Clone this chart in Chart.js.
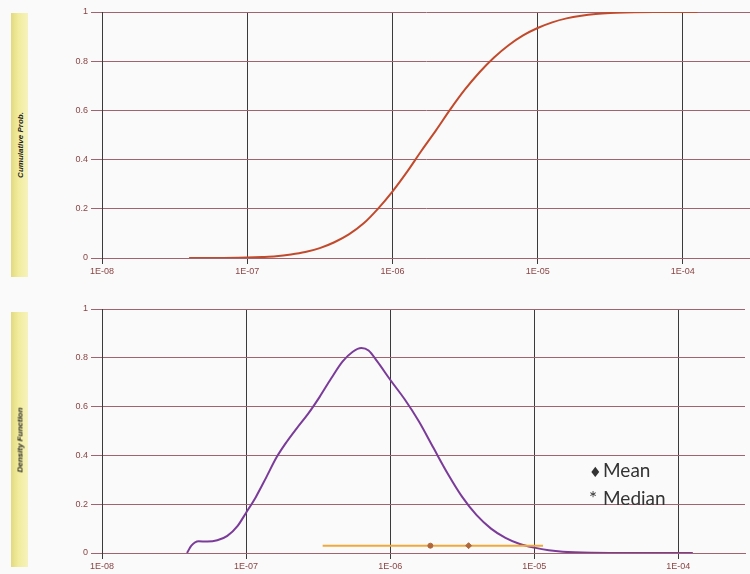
<!DOCTYPE html>
<html>
<head>
<meta charset="utf-8">
<script src="https://cdn.jsdelivr.net/npm/chart.js@4/dist/chart.umd.min.js"></script>
<style>
  html, body { margin: 0; padding: 0; background: #fafafa; }
  #wrap { position: relative; width: 750px; height: 574px; overflow: hidden; }
  .box { position: absolute; left: 0; width: 750px; height: 287px; }
  .tag {
    position: absolute; left: 11px; width: 17px;
    background: linear-gradient(to right, #e2da80 0%, #f2ec9e 45%, #f6f2bd 100%);
  }
  .tag span {
    position: absolute; left: 50%; top: 50%;
    transform: translate(-50%, -50%) rotate(-90deg);
    white-space: nowrap;
    font: italic bold 8px "Liberation Sans", Arial, sans-serif;
    color: #222;
  }
  #legend {
    position: absolute; left: 589px; top: 457px;
    font: 19px Lato, "Open Sans", sans-serif; color: #333; line-height: 25px;
  }
  #legend .sym { display: inline-block; width: 14px; }
</style>
</head>
<body>
<div id="wrap">
  <div class="box" style="top:0"><canvas id="cdfChart"></canvas></div>
  <div class="box" style="top:287px"><canvas id="pdfChart"></canvas></div>
  <div class="tag" style="top:13px;height:264px"><span>Cumulative Prob.</span></div>
  <div class="tag" style="top:312px;height:255px"><span>Density Function</span></div>
  <div id="legend">
    <div><span class="sym" style="font-family:'DejaVu Sans';font-size:14px">&#9830;</span>Mean</div>
    <div><span class="sym">*</span>Median</div>
  </div>
</div>

<script>
// ---- data ----
const xDecades    = [1e-8, 1e-7, 1e-6, 1e-5, 1e-4];
const xTickLabels = ["1E-08", "1E-07", "1E-06", "1E-05", "1E-04"];
const yTickLabels = ["0", "0.2", "0.4", "0.6", "0.8", "1"];

// cumulative probability
const cdfX = [3.98e-8, 6.31e-8, 1e-7, 1.26e-7, 1.58e-7, 2.0e-7, 2.51e-7, 3.16e-7, 3.98e-7, 5.01e-7,
              6.31e-7, 7.94e-7, 1e-6, 1.26e-6, 1.58e-6, 2.0e-6, 2.51e-6, 3.16e-6, 3.98e-6, 5.01e-6,
              6.31e-6, 7.94e-6, 1e-5, 1.26e-5, 1.58e-5, 2.0e-5, 2.51e-5, 3.16e-5, 3.98e-5, 6.31e-5,
              1.26e-4];
const cdfY = [0, 0, 0.002, 0.004, 0.007, 0.014, 0.024, 0.040, 0.064, 0.096,
              0.14, 0.20, 0.27, 0.35, 0.435, 0.52, 0.605, 0.685, 0.755, 0.815,
              0.865, 0.905, 0.935, 0.958, 0.974, 0.985, 0.992, 0.996, 0.998, 1.0,
              1.0];

// density function
const pdfX = [3.89e-8, 4.17e-8, 4.68e-8, 5.37e-8, 6.31e-8, 7.41e-8, 8.71e-8, 1e-7, 1.17e-7, 1.38e-7,
              1.62e-7, 1.91e-7, 2.24e-7, 2.69e-7, 3.24e-7, 3.89e-7, 4.68e-7, 5.50e-7, 6.31e-7, 7.08e-7,
              8.13e-7, 1e-6, 1.26e-6, 1.58e-6, 2.0e-6, 2.51e-6, 3.16e-6, 3.98e-6, 5.01e-6, 6.31e-6,
              7.94e-6, 1e-5, 1.26e-5, 1.58e-5, 2.51e-5, 5.01e-5, 1.26e-4];
const pdfY = [0, 0.03, 0.048, 0.047, 0.052, 0.07, 0.11, 0.165, 0.23, 0.31,
              0.39, 0.455, 0.51, 0.57, 0.64, 0.715, 0.785, 0.825, 0.84, 0.83,
              0.785, 0.71, 0.63, 0.54, 0.43, 0.325, 0.23, 0.155, 0.10, 0.062,
              0.037, 0.022, 0.011, 0.005, 0.001, 0, 0];

// range bar with mean / median marks
const rangeX  = [3.4e-7, 1.15e-5];
const rangeY  = [0.03, 0.03];
const medianX = [1.9e-6];
const meanX   = [3.5e-6];
const markY   = [0.03];

const xMax = 2.9e-4;

function pts(xs, ys) {
    return xs.map((x, i) => ({ x: x, y: ys[i] }));
}

const tickFont = { family: "'Liberation Sans Narrow', 'Liberation Sans', sans-serif", size: 9 };
const tickColor = "#8a4545";
const hGrid = "#a0646e";
const vGrid = "#3a3a3a";

function makeOptions(padTop, xAxisHeight) {
    return {
        responsive: false,
        animation: false,
        layout: { padding: { top: padTop, left: 0, right: 0, bottom: 0 } },
        plugins: { legend: { display: false }, tooltip: { enabled: false } },
        scales: {
            x: {
                type: "logarithmic",
                min: 1e-8,
                max: xMax,
                afterBuildTicks: s => { s.ticks = xDecades.map(v => ({ value: v })); },
                afterFit: s => { s.height = xAxisHeight; },
                ticks: {
                    autoSkip: false, maxRotation: 0, padding: 2,
                    color: tickColor, font: tickFont,
                    callback: (v, i) => xTickLabels[i]
                },
                grid: { color: vGrid, tickColor: vGrid, tickLength: 6, lineWidth: 1 },
                border: { color: hGrid, width: 1 }
            },
            y: {
                min: 0,
                max: 1,
                afterFit: s => { s.width = 102; },
                ticks: {
                    stepSize: 0.2, padding: 3,
                    color: tickColor, font: tickFont,
                    callback: (v, i) => yTickLabels[i]
                },
                grid: { color: hGrid, tickColor: hGrid, tickLength: 11, lineWidth: 1 },
                border: { color: vGrid, width: 1 }
            }
        }
    };
}

function sizeCanvas(id) {
    const c = document.getElementById(id);
    c.width = 750;
    c.height = 287;
    c.style.width = "750px";
    c.style.height = "287px";
    return c;
}

new Chart(sizeCanvas("cdfChart"), {
    type: "scatter",
    data: {
        datasets: [{
            data: pts(cdfX, cdfY),
            showLine: true,
            borderColor: "#c24a2c",
            borderWidth: 2,
            pointRadius: 0,
            cubicInterpolationMode: "monotone"
        }]
    },
    options: makeOptions(12, 29)
});

new Chart(sizeCanvas("pdfChart"), {
    type: "scatter",
    data: {
        datasets: [
            {
                data: pts(medianX, markY),
                pointRadius: 2.5, pointStyle: "circle",
                backgroundColor: "#b0683a", borderColor: "#b0683a",
                order: 0
            },
            {
                data: pts(meanX, markY),
                pointRadius: 3, pointStyle: "rectRot",
                backgroundColor: "#b0683a", borderColor: "#b0683a",
                order: 1
            },
            {
                data: pts(rangeX, rangeY),
                showLine: true,
                borderColor: "#f0a83c",
                borderWidth: 2,
                pointRadius: 0,
                order: 2
            },
            {
                data: pts(pdfX, pdfY),
                showLine: true,
                borderColor: "#7a3c98",
                borderWidth: 2,
                pointRadius: 0,
                cubicInterpolationMode: "monotone",
                order: 3
            }
        ]
    },
    options: makeOptions(22, 21)
});
</script>
</body>
</html>
